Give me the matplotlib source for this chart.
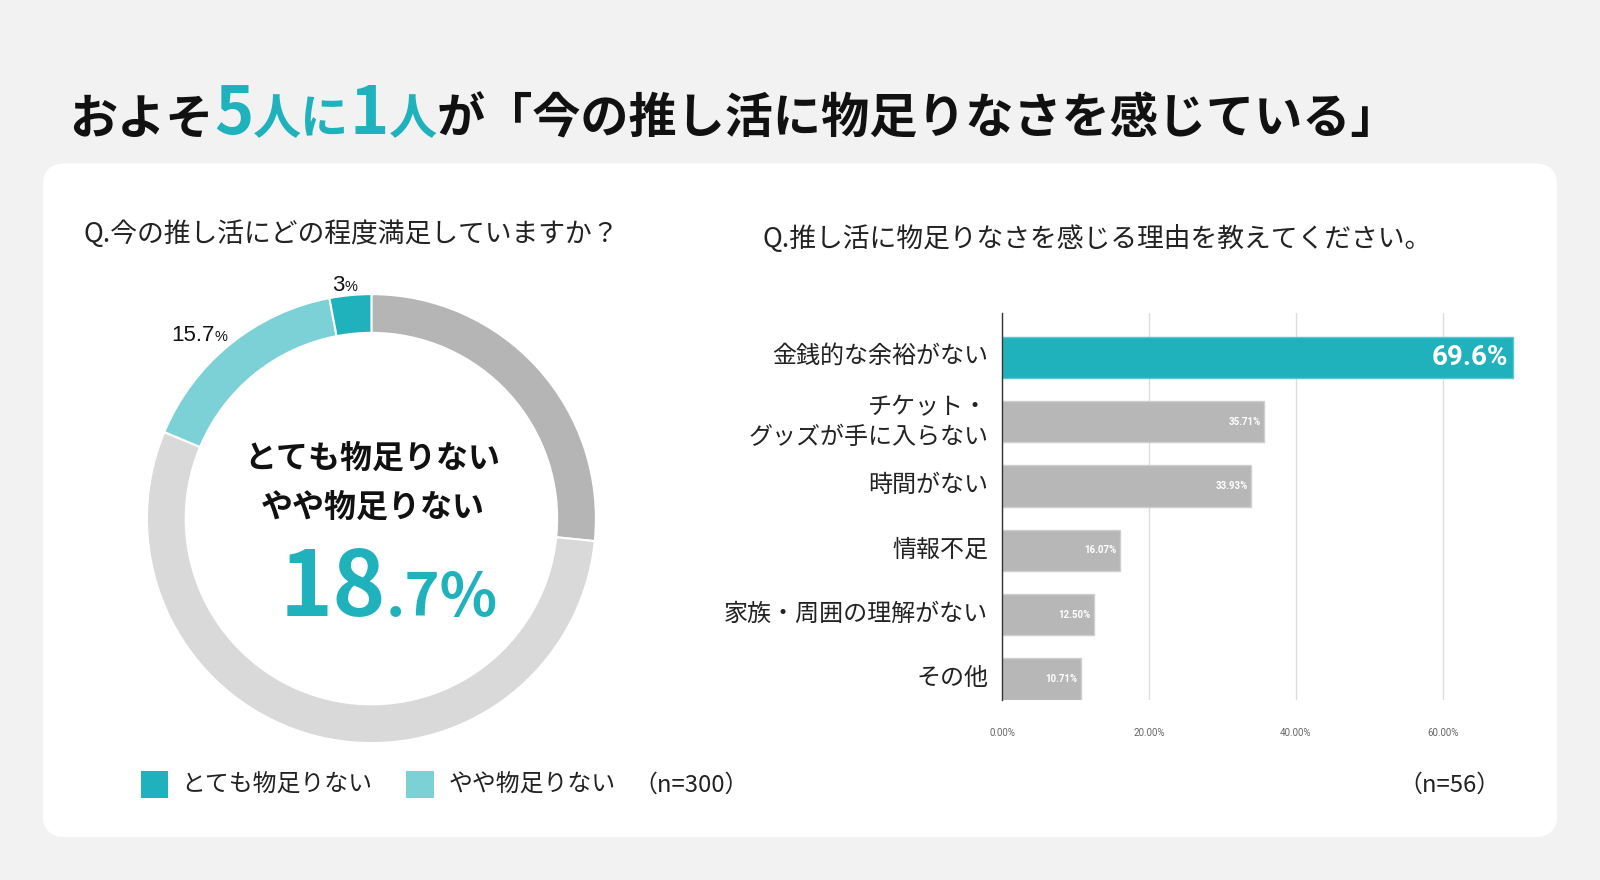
import matplotlib.pyplot as plt
from matplotlib.patches import FancyBboxPatch, Rectangle
from matplotlib.transforms import ScaledTranslation

# data
pie_labels = ['満足', 'まあ満足', 'やや物足りない', 'とても物足りない']
pie_values = [26.6, 54.7, 15.7, 3.0]
pie_colors = ['#b5b5b5', '#d9d9d9', '#7bd1d6', '#20b2bc']

reasons = ['金銭的な余裕がない', 'チケット・\nグッズが手に入らない', '時間がない',
           '情報不足', '家族・周囲の理解がない', 'その他']
reason_values = [69.6, 35.71, 33.93, 16.07, 12.50, 10.71]
reason_labels = ['69.6%', '35.71%', '33.93%', '16.07%', '12.50%', '10.71%']
x_ticks = [0, 20, 40, 60]

TEAL = '#20b2bc'
LTEAL = '#7bd1d6'
JP = ['Noto Sans CJK JP', 'DejaVu Sans']

W, H = 1568, 862  # reference pixel space
fig = plt.figure(figsize=(16, 8.8), dpi=100)
fig.patch.set_facecolor('#f2f2f2')

bg = fig.add_axes([0, 0, 1, 1])
bg.set_xlim(0, W)
bg.set_ylim(H, 0)
bg.axis('off')

panel = FancyBboxPatch((42, 160), 1484, 660, boxstyle='round,pad=0,rounding_size=22',
                       facecolor='white', edgecolor='none')
bg.add_patch(panel)

renderer = fig.canvas.get_renderer()


def put_seq(x, y, pieces):
    # place text pieces one after another along a baseline
    for s, size, color, weight, fam in pieces:
        t = bg.text(x, y, s, fontsize=size, color=color, fontweight=weight,
                    family=fam, va='baseline', ha='left')
        bb = t.get_window_extent(renderer=renderer)
        x0 = bg.transData.inverted().transform((bb.x1, bb.y0))[0]
        x = x0
    return x


# title
put_seq(68, 131, [
    ('およそ', 34.7, '#111111', 'bold', JP),
    ('5', 48, TEAL, 'bold', JP),
    ('人に', 34.7, TEAL, 'bold', JP),
    ('1', 48, TEAL, 'bold', JP),
    ('人', 34.7, TEAL, 'bold', JP),
    ('が「今の推し活に物足りなさを感じている」', 34.7, '#111111', 'bold', JP),
])

# sub titles
bg.text(82, 229, 'Q.今の推し活にどの程度満足していますか？', fontsize=19.3,
        family=JP, va='center', ha='left', color='#222222')
bg.text(747, 234, 'Q.推し活に物足りなさを感じる理由を教えてください。', fontsize=19.3,
        family=JP, va='center', ha='left', color='#222222')

# donut
cx, cy, R = 364, 508, 220
half = 240
ax_pie = fig.add_axes([(cx - half) / W, 1 - (cy + half) / H, 2 * half / W, 2 * half / H])
ax_pie.pie(pie_values, colors=pie_colors, startangle=90, counterclock=False,
           radius=1, wedgeprops=dict(width=38 / R, edgecolor='white', linewidth=1.5))
ax_pie.set_xlim(-half / R, half / R)
ax_pie.set_ylim(-half / R, half / R)
ax_pie.set_aspect('equal')
ax_pie.axis('off')

# pie labels
AR = ['Liberation Sans', 'DejaVu Sans']
put_seq(325, 285, [('3', 16, '#111111', 'normal', AR), ('%', 10.5, '#111111', 'normal', AR)])
put_seq(168, 334, [('15.7', 16, '#111111', 'normal', AR), ('%', 10.5, '#111111', 'normal', AR)])

# donut center text
bg.text(365, 449, 'とても物足りない', fontsize=23, fontweight='bold', family=JP,
        ha='center', va='center', color='#111111')
bg.text(365, 497, 'やや物足りない', fontsize=23, fontweight='bold', family=JP,
        ha='center', va='center', color='#111111')
put_seq(274, 603, [('18', 65, TEAL, 'bold', JP), ('.7%', 43, TEAL, 'bold', JP)])

# legend
bg.add_patch(Rectangle((138, 755), 27, 27, facecolor=TEAL, edgecolor='none'))
bg.add_patch(Rectangle((398, 755), 27, 27, facecolor=LTEAL, edgecolor='none'))
bg.text(178, 769, 'とても物足りない', fontsize=17.2, family=JP, va='center', color='#222222')
bg.text(440, 769, 'やや物足りない', fontsize=17.2, family=JP, va='center', color='#222222')
bg.text(621, 769, '（n=300）', fontsize=17.2, family=JP, va='center', color='#222222')
bg.text(1370, 769, '（n=56）', fontsize=17.2, family=JP, va='center', color='#222222')

# bar chart
ax_l, ax_r, ax_t, ax_b = 982, 1490, 307, 686
ax = fig.add_axes([ax_l / W, 1 - ax_b / H, (ax_r - ax_l) / W, (ax_b - ax_t) / H])
ypos = list(range(len(reasons)))
bar_colors = [TEAL] + ['#b7b7b7'] * (len(reasons) - 1)
ax.barh(ypos, reason_values, height=0.64, color=bar_colors,
        edgecolor=['#5cc6cd'] + ['#cfcfcf'] * (len(reasons) - 1), linewidth=1, zorder=3)
ax.set_xlim(0, (ax_r - ax_l) / 7.2)
ax.set_ylim(len(reasons) - 1 + 0.33, -0.68)
ax.set_yticks(ypos)
ax.set_yticklabels(reasons, fontsize=17.3, family=JP, color='#222222', linespacing=1.15)
ax.set_xticks(x_ticks)
ax.set_xticklabels([f'{v:.2f}%' for v in x_ticks], fontsize=7, family='Roboto', color='#666666')
ax.tick_params(axis='y', length=0, pad=10)
ax.tick_params(axis='x', length=0, pad=20)
ax.grid(axis='x', color='#dddddd', linewidth=1, zorder=0)
for s in ['top', 'right', 'bottom']:
    ax.spines[s].set_visible(False)
ax.spines['left'].set_color('#333333')
ax.spines['left'].set_linewidth(1)
ax.spines['left'].set_zorder(4)
ax.set_facecolor('none')

# nudge category labels up a little, like the original
shift = ScaledTranslation(0, 4 / 100, fig.dpi_scale_trans)
for lab in ax.get_yticklabels():
    lab.set_transform(lab.get_transform() + shift)

for i, (v, lab) in enumerate(zip(reason_values, reason_labels)):
    if i == 0:
        ax.text(v - 0.7, i, lab, fontsize=20, fontweight='bold', family='Roboto',
                color='white', ha='right', va='center', zorder=5)
    else:
        ax.text(v - 0.5, i, lab, fontsize=7, fontweight='bold', family='Roboto',
                color='white', ha='right', va='center', zorder=5)

fig.savefig('out.png', dpi=100, facecolor=fig.get_facecolor())
